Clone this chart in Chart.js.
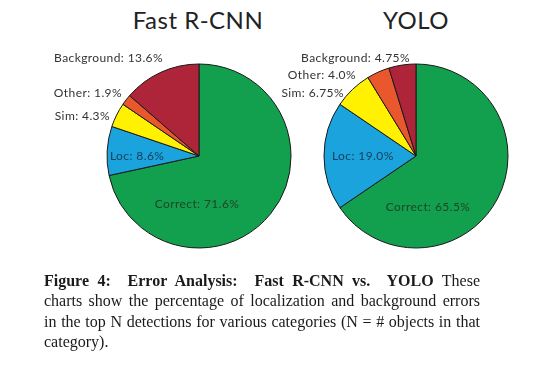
<!DOCTYPE html>
<html>
<head>
<meta charset="utf-8">
<script src="https://cdn.jsdelivr.net/npm/chart.js@4"></script>
<style>
  html, body { margin: 0; padding: 0; background: #fff; }
  body { width: 558px; height: 378px; position: relative; overflow: hidden; }
  canvas { position: absolute; }
  .title {
    position: absolute; top: 5px; width: 200px; text-align: center;
    font-family: Lato, sans-serif; font-size: 24px; color: #222;
    letter-spacing: 0.5px;
  }
  .caption {
    position: absolute; left: 44px; top: 271px; width: 436px;
    font-family: "Liberation Serif", serif; font-size: 16px; color: #1a1a1a;
    line-height: 20.4px;
  }
  .caption div { text-align: justify; text-align-last: justify; }
  .caption div.last { text-align-last: left; }
</style>
</head>
<body>
<div class="title" style="left:98px">Fast R-CNN</div>
<div class="title" style="left:316px">YOLO</div>
<canvas id="fastChart"></canvas>
<canvas id="yoloChart"></canvas>
<div class="caption">
  <div><b>Figure 4:</b>&nbsp; <b>Error Analysis:&nbsp; Fast R-CNN vs.&nbsp; YOLO</b> These</div>
  <div>charts show the percentage of localization and background errors</div>
  <div>in the top N detections for various categories (N = # objects in that</div>
  <div class="last">category).</div>
</div>
<script>
// clockwise from 12 o'clock
const categories = ["Correct", "Loc", "Sim", "Other", "Background"];
const fastRcnnValues = [71.6, 8.6, 4.3, 1.9, 13.6];
const fastRcnnLabels = ["71.6%", "8.6%", "4.3%", "1.9%", "13.6%"];
const yoloValues = [65.5, 19.0, 6.75, 4.0, 4.75];
const yoloLabels = ["65.5%", "19.0%", "6.75%", "4.0%", "4.75%"];

const sliceColors = ["#12a04e", "#1aa3dc", "#fff100", "#e8582c", "#ae253a"];
const insideText = ["#1c4528", "#173d58"];

// label anchors, offset from pie centre in px: [dx, dy, align]
const fastAnchors = [
  [-2, 48, "center"],
  [-89, 0, "left"],
  [-89, -40, "right"],
  [-77, -63, "right"],
  [-36, -98, "right"],
];
const yoloAnchors = [
  [12, 51, "center"],
  [-84, 0, "left"],
  [-72, -63, "right"],
  [-60, -81, "right"],
  [-6, -98, "right"],
];

const pieLabels = {
  id: "pieLabels",
  afterDatasetsDraw(chart, args, opts) {
    const { ctx } = chart;
    const arc = chart.getDatasetMeta(0).data[0];
    ctx.save();
    ctx.font = "12px Lato, sans-serif";
    ctx.letterSpacing = "0.4px";
    ctx.textBaseline = "middle";
    categories.forEach((cat, i) => {
      const [dx, dy, align] = opts.anchors[i];
      ctx.textAlign = align;
      ctx.fillStyle = i < 2 ? insideText[i] : "#333";
      ctx.fillText(`${cat}: ${opts.texts[i]}`, arc.x + dx, arc.y + dy);
    });
    ctx.restore();
  },
};

function makePie(id, left, width, values, texts, anchors) {
  const canvas = document.getElementById(id);
  canvas.width = width;
  canvas.height = 312;
  canvas.style.left = left + "px";
  canvas.style.top = "0px";
  canvas.style.width = width + "px";
  canvas.style.height = "312px";
  return new Chart(canvas, {
    type: "pie",
    data: {
      labels: categories,
      datasets: [
        {
          data: values,
          backgroundColor: sliceColors,
          borderColor: "#1a1a1a",
          borderWidth: 1,
        },
      ],
    },
    options: {
      responsive: false,
      animation: false,
      radius: 92,
      layout: { padding: 0 },
      plugins: {
        legend: { display: false },
        tooltip: { enabled: false },
        pieLabels: { anchors, texts },
      },
    },
    plugins: [pieLabels],
  });
}

makePie("fastChart", 0, 398, fastRcnnValues, fastRcnnLabels, fastAnchors);
makePie("yoloChart", 274, 284, yoloValues, yoloLabels, yoloAnchors);
</script>
</body>
</html>
